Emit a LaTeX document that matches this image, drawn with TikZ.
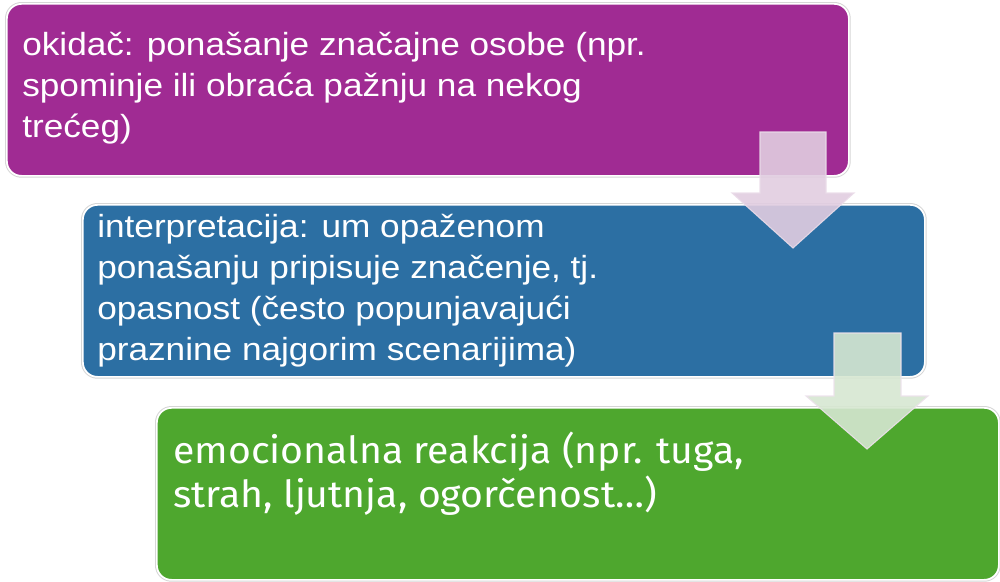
\documentclass[tikz,border=0pt]{standalone}
\usepackage{fontspec}
\setmainfont{Liberation Sans}
\newfontfamily\fonta[FakeStretch=1.1]{Liberation Sans}
\newfontfamily\fontb[FakeStretch=1.05]{Fira Sans}
\definecolor{cpurple}{HTML}{A02B93}
\definecolor{cblue}{HTML}{2C6FA3}
\definecolor{cgreen}{HTML}{4EA72E}
\definecolor{arrA}{HTML}{E1CDE0}
\definecolor{arrB}{HTML}{D6E7D1}
\begin{document}
\begin{tikzpicture}[x=0.75pt,y=-0.75pt,
  box/.style={rectangle, rounded corners=11pt, draw=white, line width=1.3pt,
    preaction={draw=black!16, line width=2.8pt},
    minimum width=631.5pt, minimum height=129pt, anchor=north west, inner sep=0pt},
  txta/.style={text=white, inner sep=0pt, align=left, anchor=base west,
    font=\fonta\fontsize{24pt}{30.75pt}\selectfont},
  txtb/.style={text=white, inner sep=0pt, align=left, anchor=base west,
    font=\fontb\fontsize{28pt}{33pt}\selectfont},
  blockarrow/.style={line width=0.8pt, fill opacity=0.9, draw opacity=0.9}]
\useasboundingbox (0,0) rectangle (1000,582);
\node[box, fill=cpurple] (b1) at (6,3) {};
\node[box, fill=cblue] (b2) at (82,204) {};
\node[box, fill=cgreen] (b3) at (156,407) {};
\node[txta] (t1) at (22,137) {okidač: ponašanje značajne osobe (npr.\\ spominje ili obraća pažnju na nekog\\ trećeg)};
\node[txta] (t2) at (97,360) {interpretacija: um opaženom\\ ponašanju pripisuje značenje, tj.\\ opasnost (često popunjavajući\\ praznine najgorim scenarijima)};
\node[txtb] (t3) at (173,507) {emocionalna reakcija (npr. tuga,\\ strah, ljutnja, ogorčenost…)};
\path[blockarrow, fill=arrA, draw=arrA!70!white]
  (760,132) -- (826,132) -- (826,193) -- (854,193) -- (793,248) -- (732,193) -- (760,193) -- cycle;
\path[blockarrow, fill=arrB, draw=arrA!60!white]
  (834,333) -- (901,333) -- (901,396) -- (928,396) -- (867,449) -- (806,396) -- (834,396) -- cycle;
\end{tikzpicture}
\end{document}
